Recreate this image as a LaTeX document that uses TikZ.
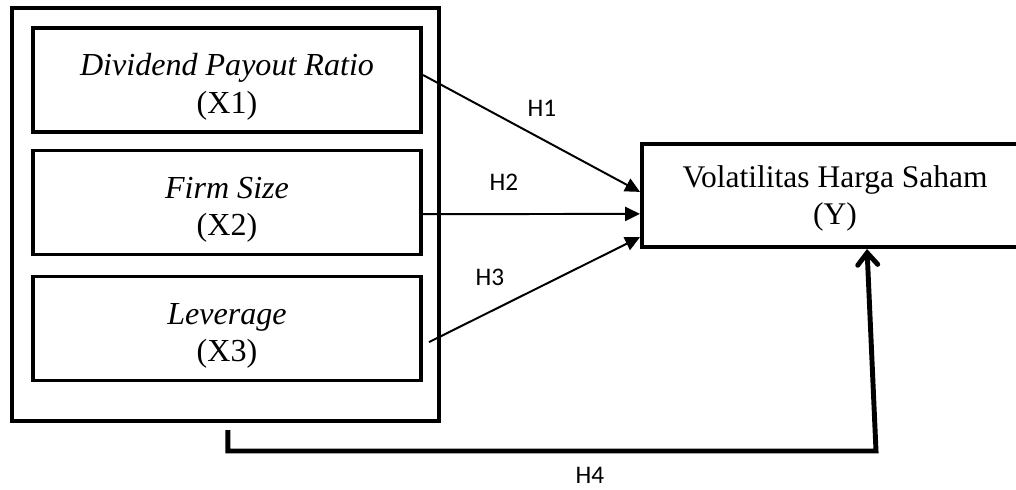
\documentclass[tikz,border=0pt]{standalone}
\usepackage{fontspec}
\setmainfont{Liberation Serif}
\newfontfamily\hfont{Carlito}
\usetikzlibrary{arrows.meta}

\begin{document}
\begin{tikzpicture}[
  x=0.025cm, y=-0.025cm,
  varbox/.style = {shape=rectangle, draw, line width=2.8pt, align=center,
    minimum width=9.7cm, minimum height=2.6cm, text height=52pt,
    font=\fontsize{22.8}{26.5}\selectfont},
  hyp/.style = {inner sep=0pt, font=\hfont\fontsize{18}{20}\selectfont},
  hline/.style = {line width=1.4pt, -{Triangle[length=0.37cm,width=0.35cm]}}
  ]
  \clip (0,0) rectangle (1016,489);
  \node[draw, line width=2.8pt, minimum width=10.675cm, minimum height=10.325cm] (frame) at (225.5,214.5) {};
  \node[varbox] (x1) at (227,80) {\textit{Dividend Payout Ratio}\\(X1)};
  \node[varbox] (x2) at (227,202.5) {\textit{Firm Size}\\(X2)};
  \node[varbox] (x3) at (227,328.5) {\textit{Leverage}\\(X3)};
  \node[varbox, minimum width=9.65cm, minimum height=2.575cm, text height=46pt,
    font=\fontsize{22.4}{26}\selectfont] (y) at (835,195.5) {Volatilitas Harga Saham\\(Y)};

  \draw[hline] ([yshift=0.125cm]x1.east) -- ([yshift=0.09cm]y.west);
  \draw[hline] ([yshift=-0.29cm]x2.east) -- ([yshift=-0.46cm]y.west);
  \draw[hline] ([xshift=0.15cm,yshift=-0.34cm]x3.east) -- ([yshift=-1.04cm]y.west);
  \coordinate (h4) at (876,451);
  \draw[line width=3.5pt, -{Straight Barb[length=0.3cm,width=0.5cm,line cap=round]}]
    ([xshift=0.06cm,yshift=-0.18cm]frame.south) |- (h4) -- ([xshift=0.8cm]y.south);

  \node[hyp] (h1) at (542,108) {H1};
  \node[hyp] (h2) at (504,182) {H2};
  \node[hyp] (h3) at (490,277) {H3};
  \node[hyp] (h4l) at (590,475) {H4};
\end{tikzpicture}
\end{document}
